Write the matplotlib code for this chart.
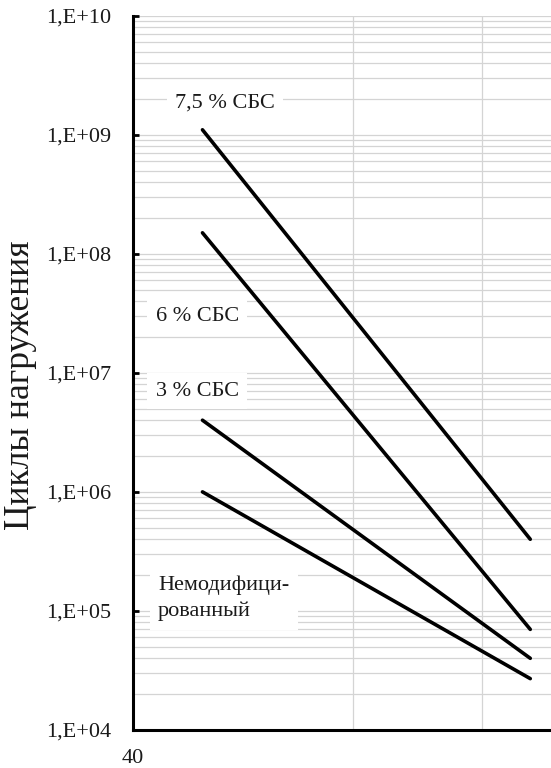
import numpy as np
import matplotlib
matplotlib.use("Agg")
import matplotlib.pyplot as plt
from matplotlib.ticker import LogLocator, FixedLocator, FixedFormatter

plt.rcParams['font.family'] = ['Liberation Serif', 'DejaVu Serif']

# Деформация (начало и конец прямых) и число циклов
x_points = [45.4, 70.7]
series = {
    "7,5 % СБС": [1.1e9, 4.0e5],
    "6 % СБС": [1.5e8, 7.0e4],
    "3 % СБС": [4.0e6, 4.0e4],
    "Немодифици-\nрованный": [1.0e6, 2.7e4],
}

y_ticks = [1e4, 1e5, 1e6, 1e7, 1e8, 1e9, 1e10]
y_labels = ["1,E+04", "1,E+05", "1,E+06", "1,E+07", "1,E+08", "1,E+09", "1,E+10"]
x_ticks = [40, 57, 67]
x_labels = ["40", "", ""]

# подписи кривых: положение в долях осей
label_pos = {
    "7,5 % СБС": (0.221, 0.878, "center"),
    "6 % СБС": (0.155, 0.579, "center"),
    "3 % СБС": (0.155, 0.474, "center"),
    "Немодифици-\nрованный": (0.061, 0.184, "left"),
}

fig = plt.figure(figsize=(5.51, 7.68), dpi=100)
ax = fig.add_axes([0.2405, 0.0495, 0.7595, 0.9301])

for name, vals in series.items():
    ax.plot(x_points, vals, color="black", lw=2.6, solid_capstyle="round", zorder=4)

ax.set_yscale("log")
ax.set_ylim(1e4, 1e10)
ax.set_xlim(40, 72.3)

ax.yaxis.set_major_locator(FixedLocator(y_ticks))
ax.yaxis.set_major_formatter(FixedFormatter(y_labels))
ax.yaxis.set_minor_locator(LogLocator(base=10, subs=np.arange(2, 10), numticks=20))
ax.xaxis.set_major_locator(FixedLocator(x_ticks))
ax.xaxis.set_major_formatter(FixedFormatter(x_labels))

ax.grid(True, which="major", axis="both", color="#d4d4d4", lw=0.9, zorder=0)
ax.grid(True, which="minor", axis="y", color="#d4d4d4", lw=0.9, zorder=0)

ax.tick_params(axis="y", which="major", direction="in", length=4, width=2,
               labelsize=16, pad=15, labelcolor="#1a1a1a")
ax.tick_params(axis="y", which="minor", length=0)
ax.tick_params(axis="x", length=0, labelsize=16, pad=14, labelcolor="#1a1a1a")

for side in ["top", "right"]:
    ax.spines[side].set_visible(False)
for side in ["left", "bottom"]:
    ax.spines[side].set_linewidth(2.2)
    ax.spines[side].set_color("black")
    ax.spines[side].set_zorder(5)

for name, (fx, fy, ha) in label_pos.items():
    ax.text(fx, fy, name, transform=ax.transAxes, ha=ha, va="center",
            fontsize=16, color="#1a1a1a", linespacing=1.45, zorder=3,
            bbox=dict(facecolor="white", edgecolor="none", pad=6))

fig.text(21 / 551, 1 - 385 / 768, "Циклы нагружения", rotation=90,
         ha="center", va="center", fontsize=25.5, color="#1a1a1a")

fig.savefig("out.png", dpi=100)
